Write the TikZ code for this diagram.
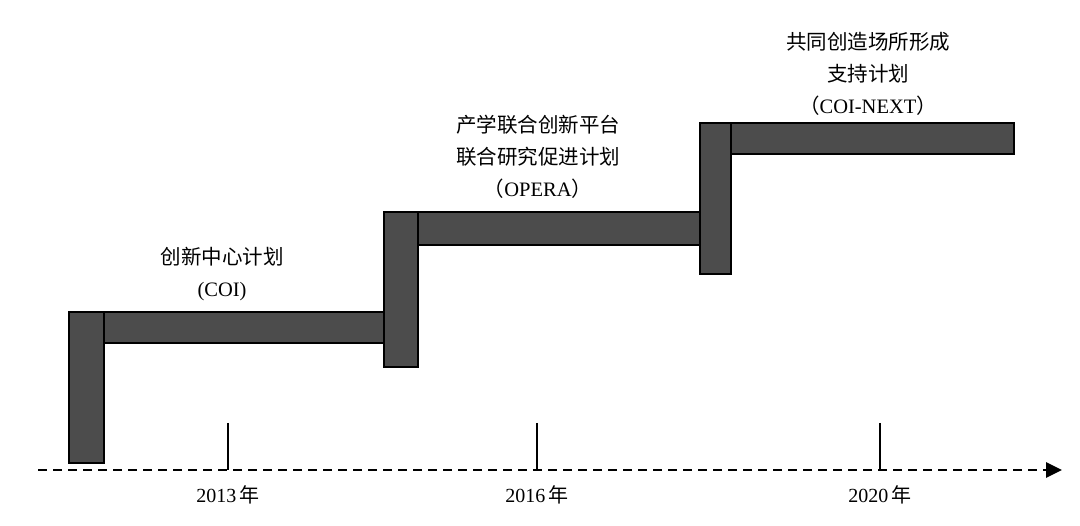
\documentclass[tikz,border=0pt]{standalone}
\usepackage{fontspec}
\setmainfont{Liberation Serif}
\newfontfamily\cjk{Noto Sans CJK SC}
\usetikzlibrary{arrows.meta}

\begin{document}
\begin{tikzpicture}[>=Stealth,x=1pt,y=-1pt]
    \tikzstyle{bar}=[draw=black,line width=1.2pt,fill=black!70]
    \tikzstyle{plan}=[align=center,font=\fontsize{20.5}{32}\selectfont]
    \tikzstyle{year}=[font=\fontsize{20}{22}\selectfont]
    \tikzstyle{tick}=[line width=1.8pt]
    \useasboundingbox (0,0) rectangle (1080,526);
    % steps
    \draw[bar] (104,312) rectangle (384,343);
    \draw[bar] (69,312) rectangle (104,463);
    \draw[bar] (418,212) rectangle (700,245);
    \draw[bar] (384,212) rectangle (418,367);
    \draw[bar] (731,123) rectangle (1014,154);
    \draw[bar] (700,123) rectangle (731,274);
    % plans
    \node[plan] (coi) at (222,274) {{\cjk 创新中心计划}\\(COI)};
    \node[plan] (opera) at (538,157) {{\cjk 产学联合创新平台}\\{\cjk 联合研究促进计划}\\{\cjk （}OPERA{\cjk ）}};
    \node[plan] (next) at (868,74) {{\cjk 共同创造场所形成}\\{\cjk 支持计划}\\{\cjk （}COI-NEXT{\cjk ）}};
    % time axis
    \coordinate (start) at (38,470);
    \coordinate (end) at (1062,470);
    \draw[line width=2.7pt,dash pattern=on 9pt off 6pt,-{Triangle[length=16pt,width=15pt]}] (start) -- (end);
    \foreach \x/\yr in {228/2013,537/2016,880/2020} {
      \coordinate (t\yr) at (\x,423);
      \draw[tick] (t\yr) -- (t\yr |- start);
      \node[year] (y\yr) at (\x,495) {\yr\,{\cjk 年}};
    }
\end{tikzpicture}
\end{document}
